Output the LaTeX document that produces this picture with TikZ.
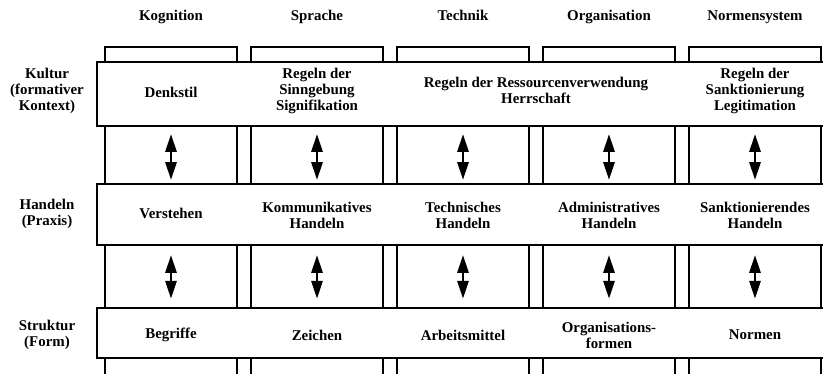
\documentclass[tikz,border=0pt]{standalone}
\usepackage{fontspec}
\setmainfont{Liberation Serif}
\usetikzlibrary{arrows.meta}
\tikzset{
  colbox/.style={draw, line width=2pt, fill=white, minimum width=3.3cm, minimum height=8.525cm, inner sep=0pt},
  band/.style={draw, line width=2pt, fill=white, minimum width=18.6cm, inner sep=0pt},
  lbl/.style={font=\bfseries\fontsize{10.6}{11.4}\selectfont, align=center, inner sep=0pt},
  dblarrow/.style={line width=1.5pt, {Triangle[length=0.44cm,width=0.28cm]}-{Triangle[length=0.44cm,width=0.28cm]}}
}
\begin{document}
\begin{tikzpicture}
    \useasboundingbox (0,0) rectangle (20.575,-9.35);
    % columns behind the bands
    \node[colbox] (kog) at (4.275,-5.4375) {};
    \node[colbox] (spr) at (7.925,-5.4375) {};
    \node[colbox] (tec) at (11.575,-5.4375) {};
    \node[colbox] (org) at (15.225,-5.4375) {};
    \node[colbox] (nor) at (18.875,-5.4375) {};
    % bands
    \node[band, minimum height=1.6cm] (kultur) at (11.725,-2.35) {};
    \node[band, minimum height=1.525cm] (handeln) at (11.725,-5.3625) {};
    \node[band, minimum height=1.25cm] (struktur) at (11.725,-8.325) {};
    % headers
    \node[lbl, anchor=base] (hkog) at (4.275,-0.5) {Kognition};
    \node[lbl, anchor=base] (hspr) at (7.925,-0.5) {Sprache};
    \node[lbl, anchor=base] (htec) at (11.575,-0.5) {Technik};
    \node[lbl, anchor=base] (horg) at (15.225,-0.5) {Organisation};
    \node[lbl, anchor=base] (hnor) at (18.875,-0.5) {Normensystem};
    % row labels
    \node[lbl] (lkultur) at (1.175,-2.27) {Kultur\\(formativer\\Kontext)};
    \node[lbl] (lhandeln) at (1.175,-5.34) {Handeln\\(Praxis)};
    \node[lbl] (lstruktur) at (1.175,-8.375) {Struktur\\(Form)};
    % Kultur
    \node[lbl] (k1) at (4.275,-2.3) {Denkstil};
    \node[lbl] (k2) at (7.925,-2.27) {Regeln der\\Sinngebung\\Signifikation};
    \node[lbl] (k3) at (13.4,-2.27) {Regeln der Ressourcenverwendung\\Herrschaft};
    \node[lbl] (k5) at (18.875,-2.27) {Regeln der\\Sanktionierung\\Legitimation};
    % Handeln
    \node[lbl] (h1) at (4.275,-5.33) {Verstehen};
    \node[lbl] (h2) at (7.925,-5.375) {Kommunikatives\\Handeln};
    \node[lbl] (h3) at (11.575,-5.375) {Technisches\\Handeln};
    \node[lbl] (h4) at (15.225,-5.375) {Administratives\\Handeln};
    \node[lbl] (h5) at (18.875,-5.375) {Sanktionierendes\\Handeln};
    % Struktur
    \node[lbl] (s1) at (4.275,-8.375) {Begriffe};
    \node[lbl] (s2) at (7.925,-8.375) {Zeichen};
    \node[lbl] (s3) at (11.575,-8.375) {Arbeitsmittel};
    \node[lbl] (s4) at (15.225,-8.375) {Organisations-\\formen};
    \node[lbl] (s5) at (18.875,-8.375) {Normen};
    % arrows Kultur <-> Handeln
    \draw[dblarrow, shorten <=0.17cm, shorten >=0.07cm] (kultur.south -| kog) -- (handeln.north -| kog);
    \draw[dblarrow, shorten <=0.17cm, shorten >=0.07cm] (kultur.south -| spr) -- (handeln.north -| spr);
    \draw[dblarrow, shorten <=0.17cm, shorten >=0.07cm] (kultur.south -| tec) -- (handeln.north -| tec);
    \draw[dblarrow, shorten <=0.17cm, shorten >=0.07cm] (kultur.south -| org) -- (handeln.north -| org);
    \draw[dblarrow, shorten <=0.17cm, shorten >=0.07cm] (kultur.south -| nor) -- (handeln.north -| nor);
    % arrows Handeln <-> Struktur
    \draw[dblarrow, shorten <=0.22cm, shorten >=0.2cm] (handeln.south -| kog) -- (struktur.north -| kog);
    \draw[dblarrow, shorten <=0.22cm, shorten >=0.2cm] (handeln.south -| spr) -- (struktur.north -| spr);
    \draw[dblarrow, shorten <=0.22cm, shorten >=0.2cm] (handeln.south -| tec) -- (struktur.north -| tec);
    \draw[dblarrow, shorten <=0.22cm, shorten >=0.2cm] (handeln.south -| org) -- (struktur.north -| org);
    \draw[dblarrow, shorten <=0.22cm, shorten >=0.2cm] (handeln.south -| nor) -- (struktur.north -| nor);
\end{tikzpicture}
\end{document}
